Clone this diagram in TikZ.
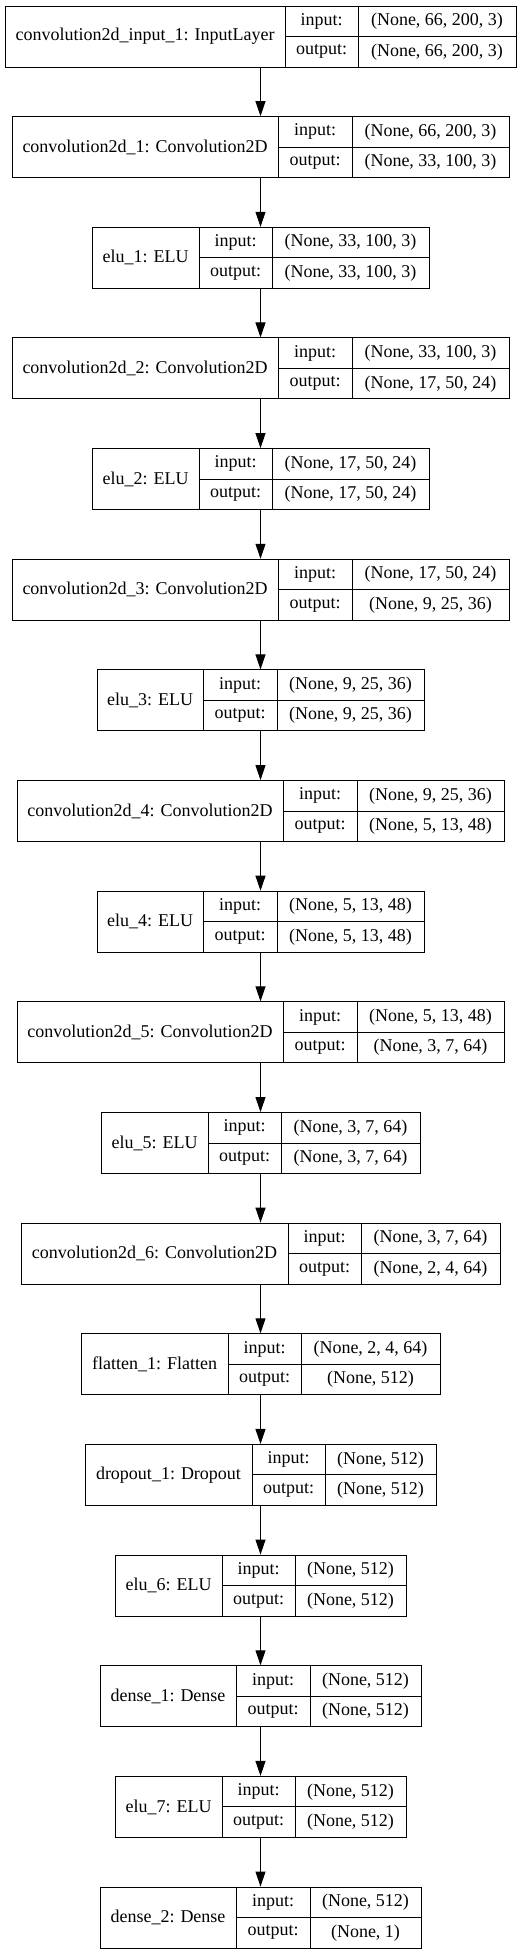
\documentclass[tikz,border=0pt]{standalone}
\usepackage{fontspec}
\setmainfont{Liberation Serif}
\usetikzlibrary{arrows.meta}
\tikzset{
  layerbox/.style={draw=black, line width=1pt, rectangle, minimum height=61pt, inner sep=0pt},
  cellline/.style={draw=black, line width=1pt},
  flow/.style={line width=1pt, -{Triangle[length=15pt, width=10pt]}}
}
% one keras layer: name, row, left, first and second divider, label, input and output shape
\newcommand{\kerasbox}[8]{%
  \pgfmathsetmacro{\kt}{6+110.65*#2}%
  \pgfmathsetmacro{\kc}{\kt+30.5}%
  \pgfmathsetmacro{\kw}{521-2*#3}%
  \pgfmathsetmacro{\kr}{521-#3}%
  \node[layerbox, minimum width=\kw pt] (#1) at (260.5,\kc) {};
  \draw[cellline] (#4,\kt) -- ++(0,61) (#5,\kt) -- ++(0,61) (#4,\kc) -- (\kr,\kc);
  \node (#1-name) at ({(#3+#4)/2},\kc) {#6};
  \node (#1-in) at ({(#4+#5)/2},{\kc-15.25}) {input:};
  \node (#1-out) at ({(#4+#5)/2},{\kc+15.25}) {output:};
  \node (#1-inshape) at ({(#5+\kr)/2},{\kc-15.25}) {#7};
  \node (#1-outshape) at ({(#5+\kr)/2},{\kc+15.25}) {#8};
}

\begin{document}
\begin{tikzpicture}[x=1pt,y=-1pt,font=\fontsize{18}{21.5}\selectfont]
\useasboundingbox (0,0) rectangle (521,1955);
\kerasbox{input1}{0}{5}{285}{358}{convolution2d\_input\_1: InputLayer}{(None, 66, 200, 3)}{(None, 66, 200, 3)}
\kerasbox{conv1}{1}{12}{278}{352}{convolution2d\_1: Convolution2D}{(None, 66, 200, 3)}{(None, 33, 100, 3)}
\kerasbox{elu1}{2}{92}{199}{272}{elu\_1: ELU}{(None, 33, 100, 3)}{(None, 33, 100, 3)}
\kerasbox{conv2}{3}{12}{278}{352}{convolution2d\_2: Convolution2D}{(None, 33, 100, 3)}{(None, 17, 50, 24)}
\kerasbox{elu2}{4}{92}{199}{272}{elu\_2: ELU}{(None, 17, 50, 24)}{(None, 17, 50, 24)}
\kerasbox{conv3}{5}{12}{278}{352}{convolution2d\_3: Convolution2D}{(None, 17, 50, 24)}{(None, 9, 25, 36)}
\kerasbox{elu3}{6}{97}{203}{277}{elu\_3: ELU}{(None, 9, 25, 36)}{(None, 9, 25, 36)}
\kerasbox{conv4}{7}{17}{283}{357}{convolution2d\_4: Convolution2D}{(None, 9, 25, 36)}{(None, 5, 13, 48)}
\kerasbox{elu4}{8}{97}{203}{277}{elu\_4: ELU}{(None, 5, 13, 48)}{(None, 5, 13, 48)}
\kerasbox{conv5}{9}{17}{283}{357}{convolution2d\_5: Convolution2D}{(None, 5, 13, 48)}{(None, 3, 7, 64)}
\kerasbox{elu5}{10}{101}{208}{281}{elu\_5: ELU}{(None, 3, 7, 64)}{(None, 3, 7, 64)}
\kerasbox{conv6}{11}{21}{288}{361}{convolution2d\_6: Convolution2D}{(None, 3, 7, 64)}{(None, 2, 4, 64)}
\kerasbox{flatten1}{12}{81}{228}{301}{flatten\_1: Flatten}{(None, 2, 4, 64)}{(None, 512)}
\kerasbox{dropout1}{13}{85}{252}{325}{dropout\_1: Dropout}{(None, 512)}{(None, 512)}
\kerasbox{elu6}{14}{115}{222}{295}{elu\_6: ELU}{(None, 512)}{(None, 512)}
\kerasbox{dense1}{15}{100}{236}{310}{dense\_1: Dense}{(None, 512)}{(None, 512)}
\kerasbox{elu7}{16}{115}{222}{295}{elu\_7: ELU}{(None, 512)}{(None, 512)}
\kerasbox{dense2}{17}{100}{236}{310}{dense\_2: Dense}{(None, 512)}{(None, 1)}
% arrows between the layers
\draw[flow] (input1) -- (conv1);
\draw[flow] (conv1) -- (elu1);
\draw[flow] (elu1) -- (conv2);
\draw[flow] (conv2) -- (elu2);
\draw[flow] (elu2) -- (conv3);
\draw[flow] (conv3) -- (elu3);
\draw[flow] (elu3) -- (conv4);
\draw[flow] (conv4) -- (elu4);
\draw[flow] (elu4) -- (conv5);
\draw[flow] (conv5) -- (elu5);
\draw[flow] (elu5) -- (conv6);
\draw[flow] (conv6) -- (flatten1);
\draw[flow] (flatten1) -- (dropout1);
\draw[flow] (dropout1) -- (elu6);
\draw[flow] (elu6) -- (dense1);
\draw[flow] (dense1) -- (elu7);
\draw[flow] (elu7) -- (dense2);
\end{tikzpicture}
\end{document}
